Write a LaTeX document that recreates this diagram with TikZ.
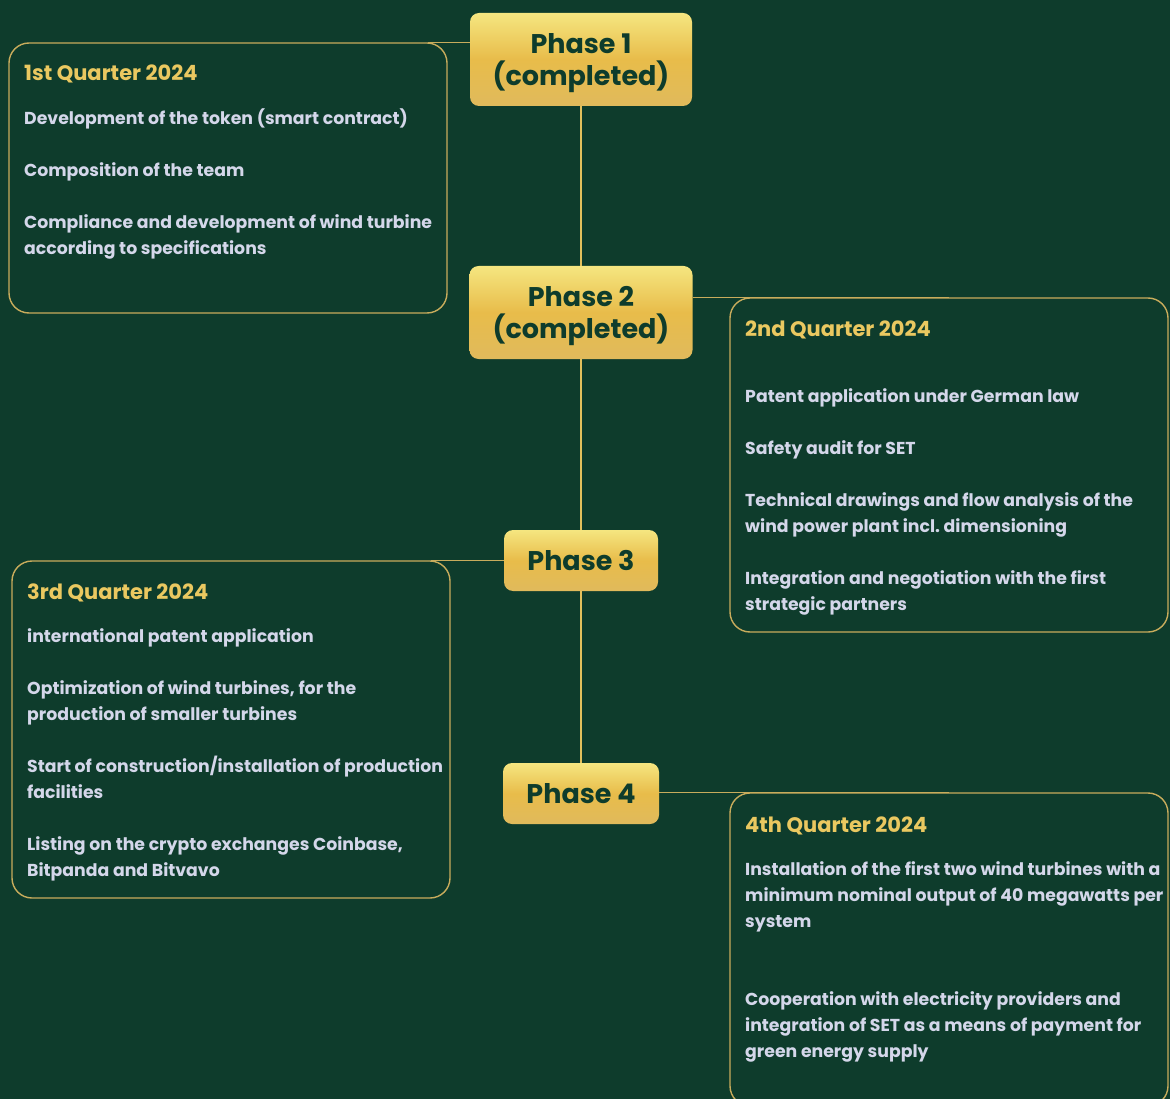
\documentclass[tikz,border=0pt]{standalone}
\usepackage{fontspec}
\setmainfont{Poppins}
\frenchspacing
\usetikzlibrary{positioning}
\definecolor{bggreen}{RGB}{14,60,44}
\definecolor{linegold}{RGB}{200,172,92}
\definecolor{spinegold}{RGB}{226,192,92}
\definecolor{titlegold}{RGB}{234,200,96}
\definecolor{itemgrey}{RGB}{212,215,234}
\definecolor{phasetop}{RGB}{245,230,128}
\definecolor{phasemid}{RGB}{232,188,74}
\definecolor{phasebot}{RGB}{224,186,92}
\begin{document}
\begin{tikzpicture}[x=1pt, y=-1pt,
	phase/.style={rounded corners=9pt, top color=phasetop, bottom color=phasebot, middle color=phasemid,
		text=bggreen, align=center, inner sep=0pt, font=\fontsize{27}{32}\selectfont\bfseries},
	quarter/.style={draw=linegold, line width=1.4pt, rounded corners=20pt, inner sep=0pt},
	spine/.style={spinegold, line width=2.6pt},
	link/.style={linegold, line width=1.5pt},
	qtitle/.style={anchor=base west, inner sep=0pt, text=titlegold, font=\fontsize{21}{26}\selectfont\bfseries},
	item/.style={anchor=north west, inner sep=0pt, text width=440pt, align=left, text=itemgrey,
		font=\fontsize{17.3}{26}\selectfont\bfseries,
		execute at begin node={\spaceskip=0pt\xspaceskip=0pt\strut}}]
	\fill[bggreen] (0,0) rectangle (1170,1099);
	\useasboundingbox (0,0) rectangle (1170,1099);
	
	% ==================== phases ====================
	\node[phase, minimum width=222, minimum height=93] (p1) at (581,59.5) {\rule{0pt}{27pt}Phase 1\\(completed)};
	\node[phase, minimum width=223, minimum height=93] (p2) at (581,312.5) {\rule{0pt}{27pt}Phase 2\\(completed)};
	\node[phase, minimum width=154, minimum height=61] (p3) at (581,560.5) {Phase 3};
	\node[phase, minimum width=156, minimum height=61] (p4) at (581,793.5) {Phase 4};
	\draw[spine] (p1) -- (p2) (p2) -- (p3) (p3) -- (p4);
	
	% ==================== quarter boxes ====================
	\node[quarter, minimum width=438, minimum height=270] (q1) at (228,178) {};
	\node[quarter, minimum width=438, minimum height=334] (q2) at (949,465) {};
	\node[quarter, minimum width=438, minimum height=337] (q3) at (231,729.5) {};
	\node[quarter, minimum width=438, minimum height=313] (q4) at (949,949.5) {};
	
	% links from the phases to the boxes
	\draw[link] (p1.west |- q1.north) -- ([xshift=-20pt]q1.north east);
	\draw[link] (p2.east |- q2.north) -- (q2.north);
	\draw[link] (p3.west |- q3.north) -- ([xshift=-20pt]q3.north east);
	\draw[link] (p4.east |- q4.north) -- (q4.north);
	
	% ==================== 1st quarter ====================
	\node[qtitle] (q1t) at (24,81) {1st Quarter 2024};
	\node[item] (q1a) at (24,106) {Development of the token (smart contract)};
	\node[item] (q1b) at (24,158) {Composition of the team};
	\node[item] (q1c) at (24,210) {Compliance and development of wind turbine\\according to specifications};
	
	% ==================== 2nd quarter ====================
	\node[qtitle] (q2t) at (745,337) {2nd Quarter 2024};
	\node[item] (q2a) at (745,384) {Patent application under German law};
	\node[item] (q2b) at (745,436) {Safety audit for SET};
	\node[item] (q2c) at (745,488) {Technical drawings and flow analysis of the\\wind power plant incl. dimensioning};
	\node[item] (q2d) at (745,566) {Integration and negotiation with the first\\strategic partners};
	
	% ==================== 3rd quarter ====================
	\node[qtitle] (q3t) at (27,599) {3rd Quarter 2024};
	\node[item] (q3a) at (27,624) {international patent application};
	\node[item] (q3b) at (27,676) {Optimization of wind turbines, for the\\production of smaller turbines};
	\node[item] (q3c) at (27,754) {Start of construction/installation of production\\facilities};
	\node[item] (q3d) at (27,832) {Listing on the crypto exchanges Coinbase,\\Bitpanda and Bitvavo};
	
	% ==================== 4th quarter ====================
	\node[qtitle] (q4t) at (745,832) {4th Quarter 2024};
	\node[item] (q4a) at (745,857) {Installation of the first two wind turbines with a\\minimum nominal output of 40 megawatts per\\system};
	\node[item] (q4b) at (745,987) {Cooperation with electricity providers and\\integration of SET as a means of payment for\\green energy supply};
\end{tikzpicture}
\end{document}
